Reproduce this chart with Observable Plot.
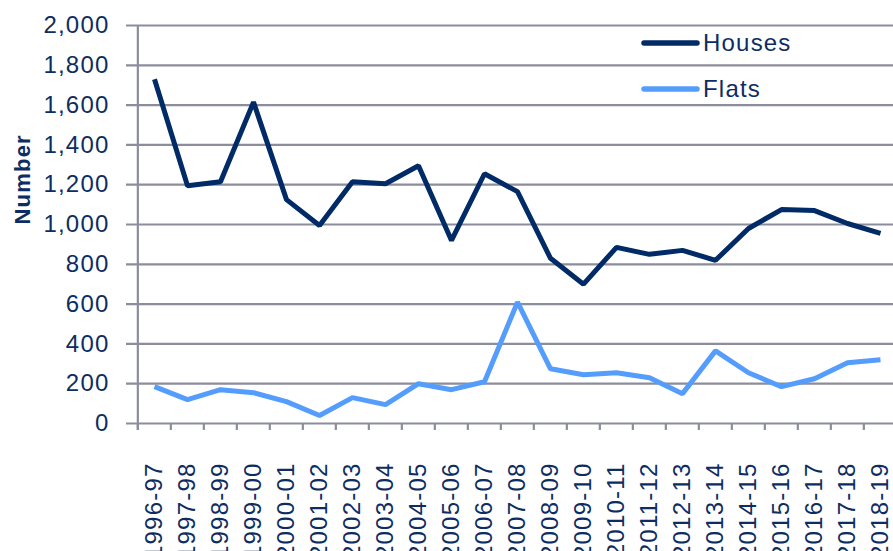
<!DOCTYPE html>
<html><head><meta charset="utf-8">
<script src="https://cdn.jsdelivr.net/npm/d3@7"></script>
<script src="https://cdn.jsdelivr.net/npm/@observablehq/plot@0.6"></script>
<style>
body{margin:0;background:#fff;}
#wrap{position:relative;width:893px;height:551px;overflow:hidden;font-family:"Liberation Sans",Arial,sans-serif;}
#wrap svg text{fill:#0d2d62;}
#legend{position:absolute;left:0;top:0;pointer-events:none;}
</style></head><body><div id="wrap"></div>
<script>
const years = ["1996-97","1997-98","1998-99","1999-00","2000-01","2001-02","2002-03","2003-04","2004-05","2005-06","2006-07","2007-08","2008-09","2009-10","2010-11","2011-12","2012-13","2013-14","2014-15","2015-16","2016-17","2017-18","2018-19"];
const houses = [1730,1195,1215,1615,1125,995,1215,1205,1295,920,1255,1165,830,700,885,850,870,820,980,1075,1070,1005,955];
const flats = [185,120,170,155,110,40,130,95,200,170,210,610,275,245,255,230,150,365,255,185,225,305,320];
const yTicks = [0,200,400,600,800,1000,1200,1400,1600,1800,2000];
const seriesNames = ["Houses","Flats"];
const colors = ["#002b66","#559dfd"];
const yTitle = "Number";

const data = years.flatMap((yr,i)=>[
  {year:yr,value:houses[i],series:seriesNames[0]},
  {year:yr,value:flats[i],series:seriesNames[1]}
]);

const grid = "#8b8d9d";
const half = 33.33/2;
const chart = Plot.plot({
  width: 893, height: 551,
  marginLeft: 133, marginRight: 0, marginTop: 25, marginBottom: 128,
  style: {fontFamily: '"Liberation Sans", Arial, sans-serif', fontSize: "24px", letterSpacing: "1.2px", color: grid, background: "#fff"},
  x: {type: "point", domain: years, range: [150, 883.3], padding: 0, label: null, tickSize: 0, tickRotate: -90, tickPadding: 39},
  y: {domain: [0, 2000], ticks: yTicks, tickFormat: d3.format(","), tickSize: 0, tickPadding: 24, label: null},
  color: {domain: seriesNames, range: colors},
  marks: [
    Plot.ruleY(yTicks, {y: d => d, stroke: grid, strokeWidth: 2.2, insetLeft: -7}),
    Plot.ruleX(years, {x: d => d, y1: 0, y2: -35, dx: -half, stroke: grid, strokeWidth: 2.2}),
    Plot.ruleX(years.slice(0,1), {x: d => d, y1: -35, y2: 2000, dx: -half, stroke: grid, strokeWidth: 2.2}),
    Plot.line(data, {x: "year", y: "value", z: "series", stroke: "series", strokeWidth: 5, strokeLinejoin: "miter", strokeLinecap: "butt"}),
    Plot.text([yTitle], {text: d => d, frameAnchor: "left", rotate: -90, dx: -111, fontWeight: "bold", fontSize: 22})
  ]
});
const wrap = document.getElementById("wrap");
wrap.appendChild(chart);

// legend overlay
const lg = d3.select(wrap).append("svg").attr("id","legend").attr("width",893).attr("height",551);
seriesNames.forEach((name,i)=>{
  const cy = 43 + i*46;
  lg.append("line").attr("x1",644).attr("x2",697).attr("y1",cy).attr("y2",cy)
    .attr("stroke",colors[i]).attr("stroke-width",5.5).attr("stroke-linecap","round");
  lg.append("text").attr("x",703).attr("y",cy).attr("dy","0.35em")
    .style("font-family",'"Liberation Sans", Arial, sans-serif').style("font-size","24px").style("letter-spacing","1.2px")
    .text(name);
});
</script></body></html>
